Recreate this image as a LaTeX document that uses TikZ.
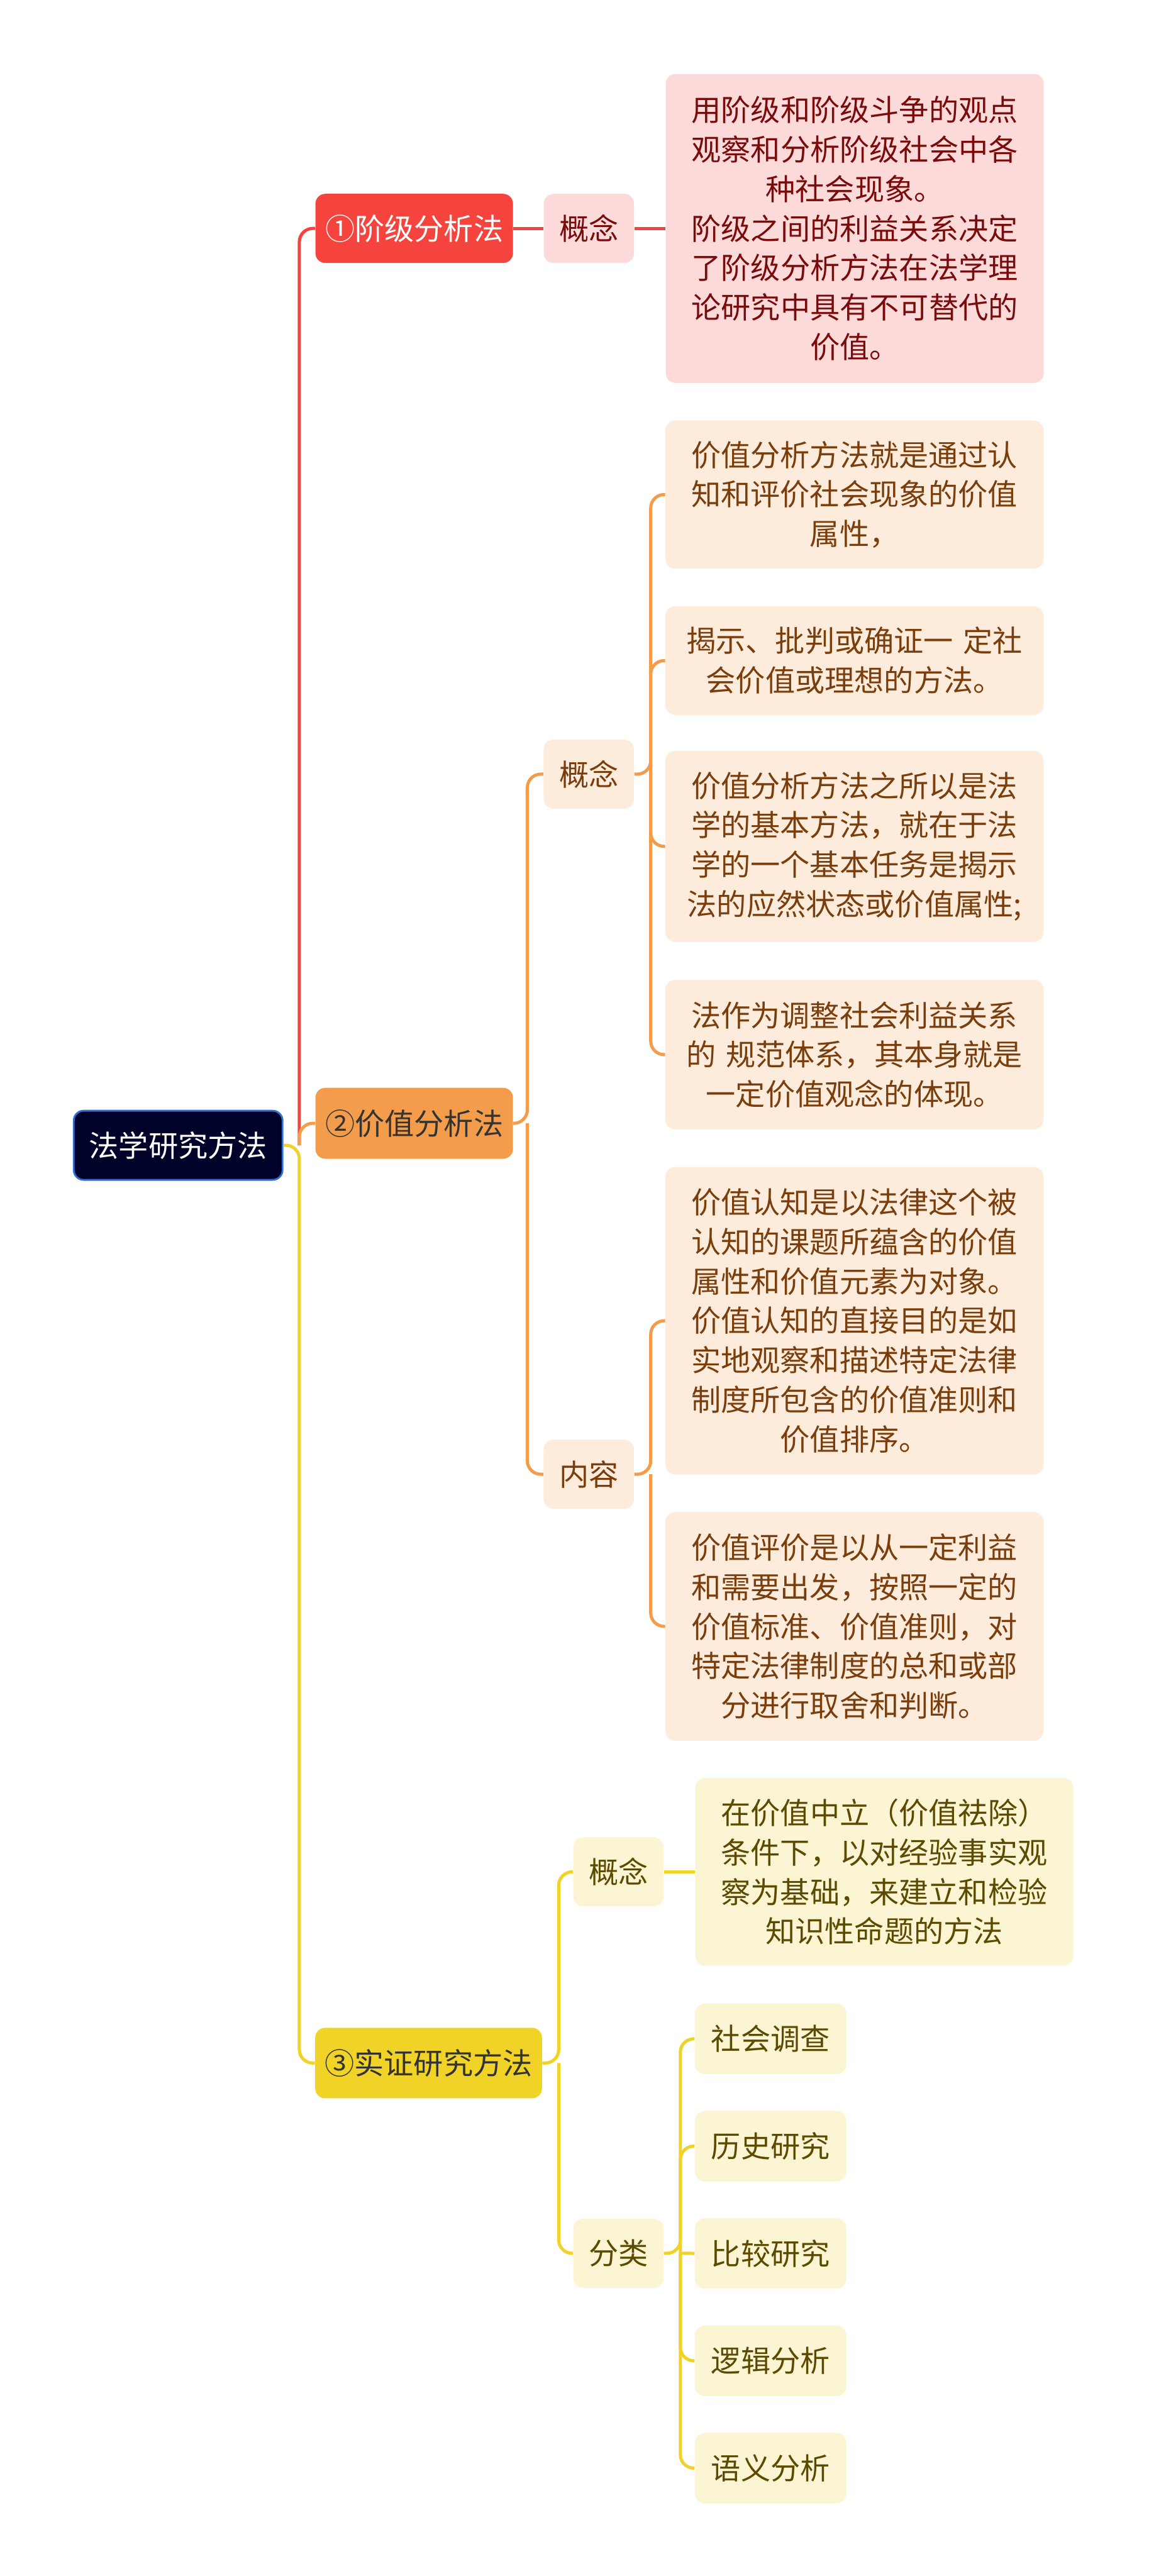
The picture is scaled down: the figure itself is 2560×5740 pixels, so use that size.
\documentclass[tikz,border=0pt]{standalone}
\usepackage{fontspec}
\setmainfont{Noto Sans CJK SC}
\usepackage{tikz}
\usetikzlibrary{positioning}
\usepackage{xcolor}

\definecolor{rootfill}{HTML}{00022A}
\definecolor{rootedge}{HTML}{2F6FD2}
\definecolor{redmainc}{HTML}{F5433D}
\definecolor{redlightc}{HTML}{FDDADA}
\definecolor{redtextc}{HTML}{7A0B0B}
\definecolor{orangemainc}{HTML}{F39D4C}
\definecolor{orangelightc}{HTML}{FDEBDC}
\definecolor{orangetextc}{HTML}{7A3E0C}
\definecolor{yellowmainc}{HTML}{F0D326}
\definecolor{yellowlightc}{HTML}{FCF5D3}
\definecolor{yellowtextc}{HTML}{5C4A00}
\definecolor{darktextc}{HTML}{333333}

\begin{document}
\begin{tikzpicture}[x=0.01cm,y=-0.01cm,node distance=2cm,on grid,
    font=\fontsize{18.8pt}{25pt}\selectfont]
    \tikzstyle{boxbase}=[shape=rectangle,rounded corners=0.22cm,inner sep=0pt,align=center,minimum height=1.54cm]
    \tikzstyle{rootbox}=[boxbase,fill=rootfill,draw=rootedge,line width=0.04cm,text=white,minimum width=4.65cm]
    \tikzstyle{redmain}=[boxbase,fill=redmainc,text=white,minimum width=4.4cm]
    \tikzstyle{redsub}=[boxbase,fill=redlightc,text=redtextc,minimum width=2.01cm]
    \tikzstyle{redleaf}=[boxbase,fill=redlightc,text=redtextc,text width=8.42cm]
    \tikzstyle{orangemain}=[boxbase,fill=orangemainc,text=darktextc,minimum width=4.4cm,minimum height=1.58cm]
    \tikzstyle{orangesub}=[boxbase,fill=orangelightc,text=orangetextc,minimum width=2.01cm]
    \tikzstyle{orangeleaf}=[boxbase,fill=orangelightc,text=orangetextc,text width=8.42cm]
    \tikzstyle{yellowmain}=[boxbase,fill=yellowmainc,text=darktextc,minimum width=5.05cm,minimum height=1.57cm]
    \tikzstyle{yellowsub}=[boxbase,fill=yellowlightc,text=yellowtextc,minimum width=2.01cm]
    \tikzstyle{yellowleaf}=[boxbase,fill=yellowlightc,text=yellowtextc,text width=8.42cm]
    \tikzstyle{yellowitem}=[boxbase,fill=yellowlightc,text=yellowtextc,minimum width=3.37cm,minimum height=1.57cm]
    \tikzstyle{redline}=[draw=redmainc,line width=0.07cm,rounded corners=0.3cm]
    \tikzstyle{orangeline}=[draw=orangemainc,line width=0.07cm,rounded corners=0.3cm]
    \tikzstyle{yellowline}=[draw=yellowmainc,line width=0.07cm,rounded corners=0.3cm]

    \fill[white] (0,0) rectangle (2560,5740);
    \useasboundingbox (0,0) rectangle (2560,5740);

    \node[rootbox] (root) at (397,2552) {法学研究方法};

    % class analysis
    \node[redmain] (jieji) at (923,509) {①阶级分析法};
    \node[redsub,right=3.89cm of jieji] (jiejiGN) {概念};
    \node[redleaf,right=5.92cm of jiejiGN,minimum height=6.88cm] (jiejiTxt)
        {用阶级和阶级斗争的观点\\观察和分析阶级社会中各\\种社会现象。\\阶级之间的利益关系决定\\了阶级分析方法在法学理\\论研究中具有不可替代的\\价值。};

    % value analysis
    \node[orangemain] (jiazhi) at (923,2503) {②价值分析法};
    \node[orangesub] (jiazhiGN) at (1312,1725) {概念};
    \node[orangesub] (jiazhiNR) at (1312,3285) {内容};
    \node[orangeleaf,minimum height=3.30cm] (jzTxtA) at (1904,1102)
        {价值分析方法就是通过认\\知和评价社会现象的价值\\属性，};
    \node[orangeleaf,minimum height=2.42cm] (jzTxtB) at (1904,1472)
        {揭示、批判或确证一 定社\\会价值或理想的方法。};
    \node[orangeleaf,minimum height=4.25cm] (jzTxtC) at (1904,1886)
        {价值分析方法之所以是法\\学的基本方法，就在于法\\学的一个基本任务是揭示\\法的应然状态或价值属性;};
    \node[orangeleaf,minimum height=3.33cm] (jzTxtD) at (1904,2350)
        {法作为调整社会利益关系\\的 规范体系，其本身就是\\一定价值观念的体现。};
    \node[orangeleaf,minimum height=6.85cm] (jzTxtE) at (1904,2943)
        {价值认知是以法律这个被\\认知的课题所蕴含的价值\\属性和价值元素为对象。\\价值认知的直接目的是如\\实地观察和描述特定法律\\制度所包含的价值准则和\\价值排序。};
    \node[orangeleaf,minimum height=5.09cm] (jzTxtF) at (1904,3624)
        {价值评价是以从一定利益\\和需要出发，按照一定的\\价值标准、价值准则，对\\特定法律制度的总和或部\\分进行取舍和判断。};

    % positive research
    \node[yellowmain] (shizheng) at (955,4597) {③实证研究方法};
    \node[yellowsub] (shizhengGN) at (1378,4171) {概念};
    \node[yellowleaf,right=5.92cm of shizhengGN,minimum height=4.18cm] (szTxt)
        {在价值中立（价值祛除）\\条件下，以对经验事实观\\察为基础，来建立和检验\\知识性命题的方法};
    \node[yellowsub] (shizhengFL) at (1378,5021) {分类};
    \node[yellowitem] (flA) at (1717,4543) {社会调查};
    \node[yellowitem,below=2.39cm of flA] (flB) {历史研究};
    \node[yellowitem,below=2.39cm of flB] (flC) {比较研究};
    \node[yellowitem,below=2.39cm of flC] (flD) {逻辑分析};
    \node[yellowitem,below=2.39cm of flD] (flE) {语义分析};

    \coordinate (trunk) at (667,2552);
    \coordinate (jzFork) at (1175,2503);
    \coordinate (gnFork) at (1450,1725);
    \coordinate (nrFork) at (1450,3285);
    \coordinate (szFork) at (1245,4597);
    \coordinate (flFork) at (1516,5021);

    \draw[redline] (trunk) |- (jieji);
    \draw[redline] (jieji) -- (jiejiGN);
    \draw[redline] (jiejiGN) -- (jiejiTxt);

    \draw[orangeline] (trunk) |- (jiazhi);
    \draw[orangeline] (jiazhi.east) -- (jzFork) |- (jiazhiGN);
    \draw[orangeline] (jzFork) |- (jiazhiNR);
    \draw[orangeline] (jiazhiGN.east) -- (gnFork) |- (jzTxtA);
    \draw[orangeline] (gnFork) |- (jzTxtB);
    \draw[orangeline] (gnFork) |- (jzTxtC);
    \draw[orangeline] (gnFork) |- (jzTxtD);
    \draw[orangeline] (jiazhiNR.east) -- (nrFork) |- (jzTxtE);
    \draw[orangeline] (nrFork) |- (jzTxtF);

    \draw[yellowline] (root.east) -- (trunk) |- (shizheng);
    \draw[yellowline] (shizheng.east) -- (szFork) |- (shizhengGN);
    \draw[yellowline] (szFork) |- (shizhengFL);
    \draw[yellowline] (shizhengGN) -- (szTxt);
    \draw[yellowline] (shizhengFL.east) -- (flFork) |- (flA);
    \draw[yellowline] (flFork) |- (flB);
    \draw[yellowline] (flFork) -- (flC);
    \draw[yellowline] (flFork) |- (flD);
    \draw[yellowline] (flFork) |- (flE);
\end{tikzpicture}
\end{document}
